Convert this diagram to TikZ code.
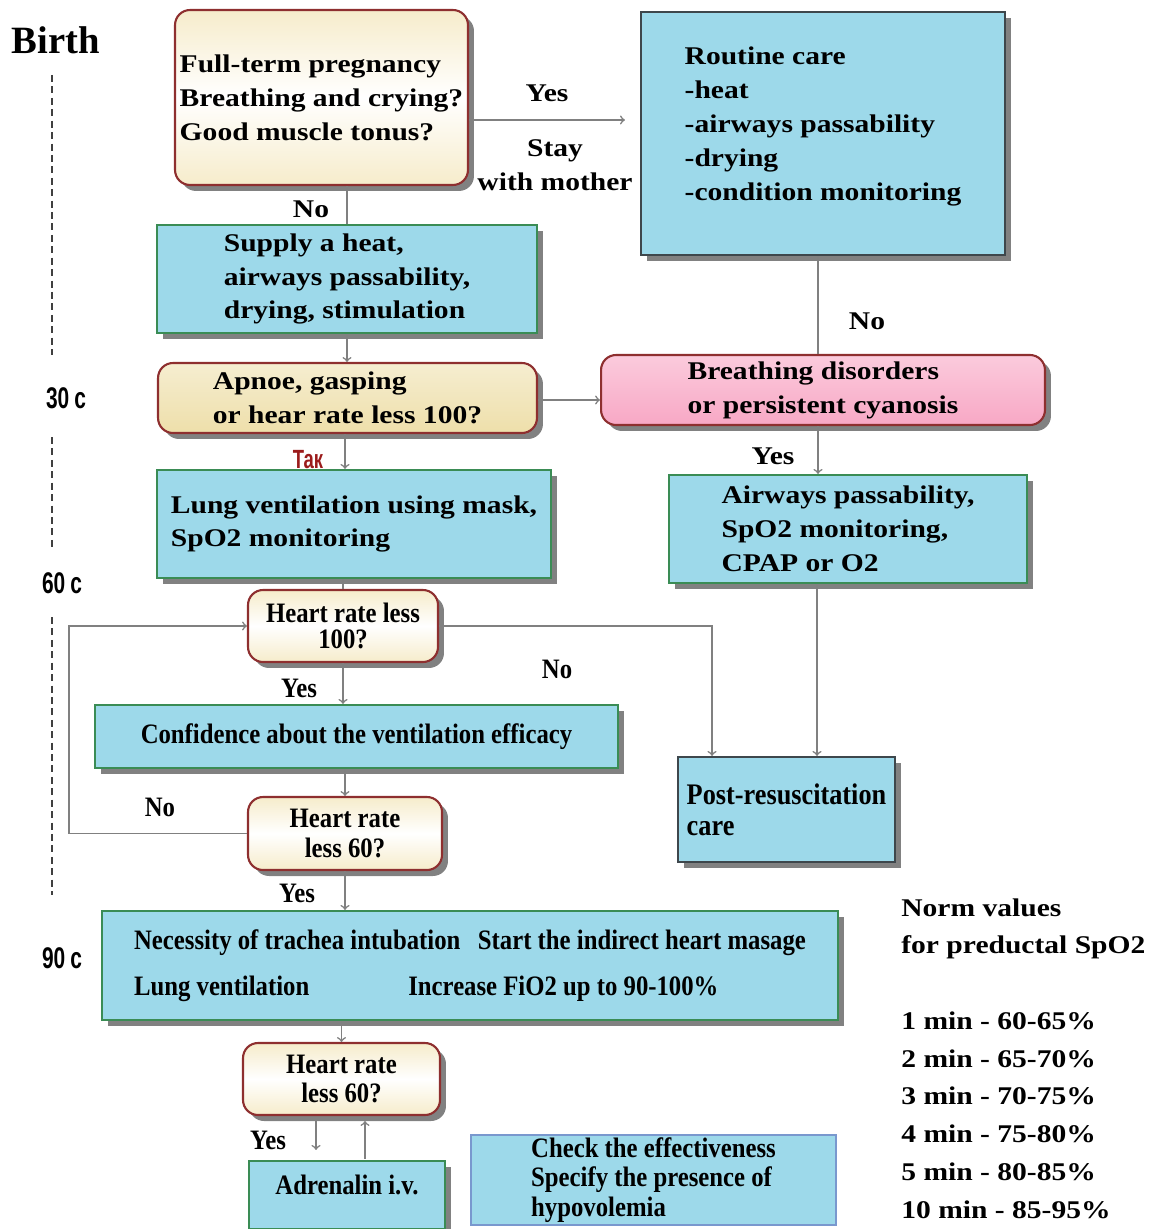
\documentclass[tikz,border=0pt]{standalone}
\usepackage{fontspec}
\setmainfont{Liberation Serif}
\newfontfamily\widefont[FakeStretch=1.16]{Liberation Serif}
\newfontfamily\slimfont[FakeStretch=0.88]{Liberation Serif}
\newfontfamily\timefont[FakeStretch=0.7]{Liberation Sans}
\usepackage{tikz}
\usetikzlibrary{shadows}
\definecolor{boxblue}{HTML}{9DD9EA}
\definecolor{boxgreen}{HTML}{3A8C55}
\definecolor{boxgray}{HTML}{3E474C}
\definecolor{askred}{HTML}{8E2F2F}
\definecolor{cream}{HTML}{F6ECCB}
\definecolor{apnoetan}{HTML}{EEDFAA}
\definecolor{alarmpink}{HTML}{F8A8C5}
\definecolor{linegray}{HTML}{808080}
\definecolor{takred}{HTML}{9B1B1B}
\tikzset{
  txt/.style={font=\widefont\bfseries\fontsize{14.5}{19.3}\selectfont, align=left},
  slim/.style={font=\slimfont\bfseries\fontsize{16}{17}\selectfont, align=center},
  shade/.style={drop shadow={shadow xshift=0.12cm, shadow yshift=-0.12cm, fill=black!70, opacity=0.7}},
  act/.style={shade, draw=boxgreen, line width=1.3pt, fill=boxblue, inner sep=0pt},
  ask/.style={shade, draw=askred, line width=1.2pt, rounded corners=0.3cm, inner sep=0pt,
    top color=cream, bottom color=cream, middle color=white},
  timelbl/.style={font=\timefont\bfseries\fontsize{17}{17}\selectfont},
  conn/.style={draw=linegray, line width=0.9pt, ->},
  plain/.style={draw=linegray, line width=0.9pt},
  tick/.style={draw=black!75, line width=1.1pt, dash pattern=on 4pt off 2.5pt}
}
\begin{document}
\begin{tikzpicture}[x=0.02cm, y=-0.02cm]
\useasboundingbox (0,0) rectangle (1158,1229);

% time axis
\node[font=\bfseries\fontsize{22}{22}\selectfont] (birth) at (56,40) {Birth};
\draw[tick] (52,75) -- (52,355);
\node[timelbl] (t30) at (66,398) {30\,c};
\draw[tick] (52,437) -- (52,550);
\node[timelbl] (t60) at (62,583) {60\,c};
\draw[tick] (52,617) -- (52,895);
\node[timelbl] (t90) at (62,958) {90\,c};

% boxes
\node[ask, txt, minimum width=5.86cm, minimum height=3.5cm] (term) at (321.5,97.5)
  {Full-term pregnancy\\Breathing and crying?\\Good muscle tonus?};
\node[act, txt, draw=boxgray, minimum width=7.28cm, minimum height=4.86cm] (routine) at (823,133.5)
  {Routine care\\-heat\\-airways passability\\-drying\\-condition monitoring\\[-8pt]};
\node[act, txt, minimum width=7.6cm, minimum height=2.16cm] (supply) at (347,279)
  {Supply a heat,\\airways passability,\\drying, stimulation};
\node[ask, txt, top color=apnoetan!55!white, middle color=apnoetan, bottom color=apnoetan,
  minimum width=7.58cm, minimum height=1.4cm] (apnoe) at (347.5,398)
  {Apnoe, gasping\\or hear rate less 100?};
\node[ask, txt, top color=alarmpink!60!white, middle color=alarmpink, bottom color=alarmpink,
  minimum width=8.88cm, minimum height=1.4cm] (breath) at (823,390)
  {Breathing disorders\\or persistent cyanosis};
\node[act, txt, minimum width=7.88cm, minimum height=2.16cm] (lung) at (354,524)
  {Lung ventilation using mask,\\SpO2 monitoring};
\node[act, txt, minimum width=7.16cm, minimum height=2.16cm] (airways) at (848,529)
  {Airways passability,\\SpO2 monitoring,\\CPAP or O2};
\node[ask, slim, font=\slimfont\bfseries\fontsize{16}{14.8}\selectfont,
  minimum width=3.8cm, minimum height=1.44cm] (hr100) at (343,626)
  {Heart rate less\\100?};
\node[act, slim, minimum width=10.46cm, minimum height=1.26cm] (confid) at (356.5,736.5)
  {Confidence about the ventilation efficacy};
\node[act, slim, align=left, draw=boxgray, font=\slimfont\bfseries\fontsize{17}{17.6}\selectfont,
  minimum width=4.34cm, minimum height=2.1cm] (postcare) at (786.5,809.5)
  {Post-resuscitation\\care};
\node[ask, slim, minimum width=3.88cm, minimum height=1.46cm] (hr60) at (345,833.5)
  {Heart rate\\less 60?};
\node[act, slim, align=left, minimum width=14.72cm, minimum height=2.18cm] (intub) at (470,965.5)
  {Necessity of trachea intubation\hspace{0.35cm}Start the indirect heart masage\\[9pt]
   Lung ventilation\hspace{1.98cm}Increase FiO2 up to 90-100\%};
\node[ask, slim, minimum width=3.94cm, minimum height=1.44cm] (hr60b) at (341.5,1079)
  {Heart rate\\less 60?};
\node[act, slim, minimum width=3.92cm, minimum height=1.36cm] (adren) at (347,1195)
  {Adrenalin i.v.\\[-5pt]};
\node[slim, align=left, draw=boxblue!75!blue!70!gray, line width=0.8pt, fill=boxblue, inner sep=0pt,
  minimum width=7.3cm, minimum height=1.8cm] (check) at (653.5,1180)
  {Check the effectiveness\\Specify the presence of\\hypovolemia};

% norms
\node[txt, anchor=north west, inner sep=0pt, font=\widefont\bfseries\fontsize{14.5}{21.5}\selectfont] (norms) at (901,898)
  {Norm values\\for preductal SpO2\\[21.5pt]
   1 min - 60-65\%\\2 min - 65-70\%\\3 min - 70-75\%\\4 min - 75-80\%\\5 min - 80-85\%\\10 min - 85-95\%};

% connectors
\draw[conn, shorten >=0.3cm] ([yshift=-0.45cm]term.east) -- ([yshift=-0.45cm]term.east -| routine.west);
\node[txt] (yes1) at (547,93) {Yes};
\node[txt, align=center] (stay) at (555,165) {Stay\\with mother};
\draw[plain] (supply.north |- term.south) -- (supply.north);
\node[txt, fill=white, inner sep=1pt] (no1) at (311,209) {No};
\draw[conn] (supply.south) -- (supply.south |- apnoe.north);
\draw[plain] ([xshift=-0.1cm]routine.south) -- ([xshift=-0.1cm]routine.south |- breath.north);
\node[txt] (no2) at (867,321) {No};
\draw[conn] ([yshift=-0.04cm]apnoe.east) -- ([yshift=-0.04cm]apnoe.east -| breath.west);
\draw[conn] ([xshift=-0.05cm]apnoe.south) -- ([xshift=-0.05cm]apnoe.south |- lung.north);
\node[font=\timefont\bfseries\fontsize{15}{15}\selectfont, text=takred] (tak) at (308,460) {Так};
\draw[conn] ([xshift=-0.1cm]breath.south) -- ([xshift=-0.1cm]breath.south |- airways.north);
\node[txt] (yes2) at (773,456) {Yes};
\draw[plain] (hr100.north |- lung.south) -- (hr100.north);
\draw[conn] ([xshift=-0.62cm]airways.south) -- ([xshift=-0.62cm]airways.south |- postcare.north);
\draw[conn] (hr100.east) -| ([xshift=-1.49cm]postcare.north);
\node[slim] (no3) at (557,669) {No};
\draw[conn] (hr100.south) -- (hr100.south |- confid.north);
\node[slim] (yes3) at (299,688) {Yes};
\draw[conn] (hr60.north |- confid.south) -- (hr60.north);
\draw[conn] (hr60.west) -- ++(-3.56cm,0) |- (hr100.west);
\node[slim] (no4) at (160,807) {No};
\draw[conn] (hr60.south) -- (hr60.south |- intub.north);
\node[slim] (yes4) at (297,893) {Yes};
\draw[conn] (hr60b.north |- intub.south) -- (hr60b.north);
\draw[conn, shorten <=0.1cm, shorten >=0.2cm] ([xshift=-0.51cm]hr60b.south) -- ([xshift=-0.51cm]hr60b.south |- adren.north);
\draw[conn, shorten <=0.02cm, shorten >=0.1cm] ([xshift=0.47cm]hr60b.south |- adren.north) -- ([xshift=0.47cm]hr60b.south);
\node[slim] (yes5) at (268,1140) {Yes};
\end{tikzpicture}
\end{document}
